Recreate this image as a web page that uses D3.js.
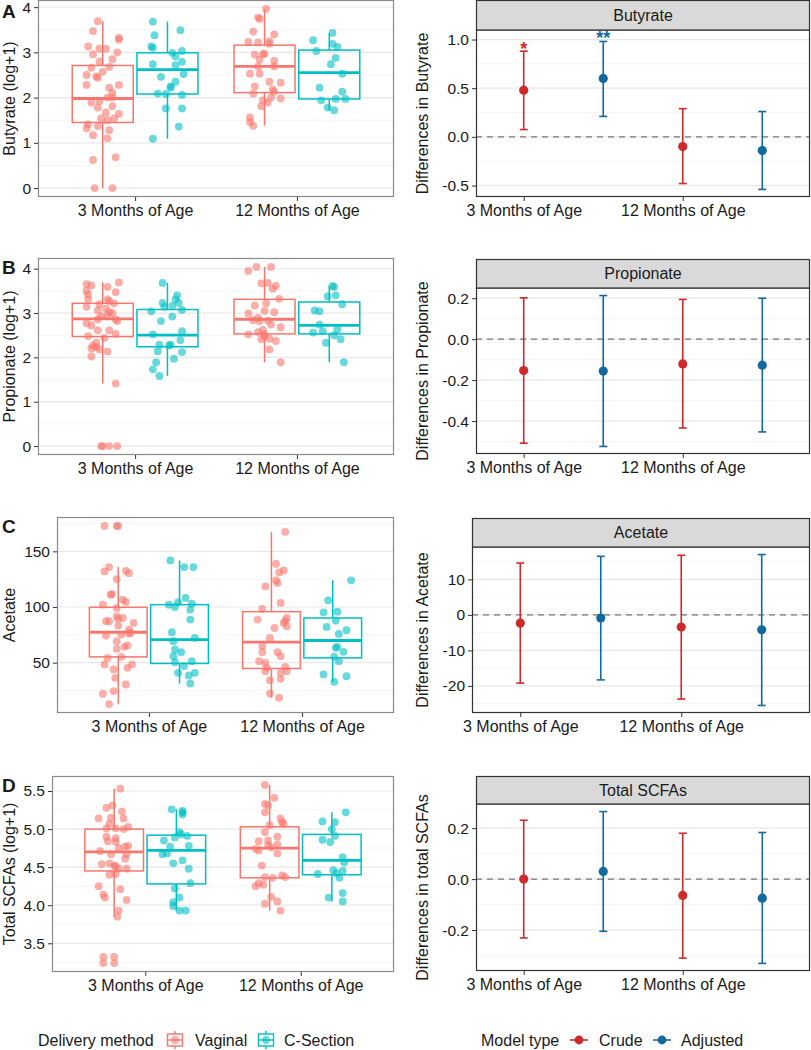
<!DOCTYPE html>
<html><head><meta charset="utf-8">
<script src="https://cdn.jsdelivr.net/npm/d3@7"></script>
<style>
body{margin:0;background:#fff}
svg{display:block}
text{font-family:"Liberation Sans",Arial,Helvetica,sans-serif;fill:#1a1a1a}
</style>
</head><body>
<svg id="c" width="811" height="1050"></svg>
<script>
// ---------------- DATA ----------------
const ages = ["3 Months of Age", "12 Months of Age"];
const deliveryMethods = ["Vaginal", "C-Section"];
const modelTypes = ["Crude", "Adjusted"];
const deliveryColors = ["#F8766D", "#00BFC4"];
const modelColors = ["#CF2A2B", "#13699E"];

// points: [value, horizontal jitter in 1/100 of a category step]
const butyrateVag3 = [[3.69,-3],[3.47,-6],[3.32,10],[3.28,10],[3.13,-9],[3.08,-2],[3.08,2],[3.00,9],[2.96,-6],[2.85,6],[2.80,-2],[2.66,-7],[2.68,4],[2.57,0],[2.50,-10],[2.47,-4],[2.44,-3],[2.28,10],[2.28,-10],[2.22,4],[2.11,6],[2.00,3],[2.00,6],[1.89,-7],[1.92,-2],[1.78,-3],[1.81,6],[1.67,2],[1.64,10],[1.54,7],[1.54,-1],[1.50,3],[1.41,-9],[1.37,-3],[1.32,-10],[1.28,4],[1.17,-6],[1.10,3],[0.68,8],[0.62,-6],[0,-5],[0,6]];
const butyrateCs3 = [[3.68,-9],[3.49,8],[3.38,-8],[3.13,-10],[3.10,-9],[3.03,9],[2.99,3],[2.91,5],[2.79,9],[2.74,-9],[2.72,5],[2.52,10],[2.46,-4],[2.35,5],[2.25,2],[2.22,2],[2.09,-6],[2.08,-1],[2.06,9],[1.76,-1],[1.76,9],[1.36,7],[1.09,-9]];
const butyrateVag12 = [[3.96,1],[3.77,-4],[3.74,-3],[3.46,-7],[3.40,6],[3.23,-10],[3.22,-4],[3.25,3],[3.19,3],[2.95,-6],[2.96,-1],[2.97,0],[2.84,-3],[2.81,6],[2.69,-4],[2.69,6],[2.53,-9],[2.53,-3],[2.35,3],[2.33,10],[2.25,-6],[2.18,5],[2.13,6],[2.09,-7],[2.00,4],[1.98,10],[1.94,-1],[1.89,2],[1.81,-2],[1.56,-9],[1.46,-9],[1.38,-7]];
const butyrateCs12 = [[3.43,2],[3.27,-10],[3.19,2],[3.12,5],[3.03,-8],[2.88,4],[2.74,1],[2.53,8],[2.22,-6],[2.13,8],[1.94,-5],[1.97,4],[1.97,10],[1.78,-1],[1.72,3]];

const propionateVag3 = [[3.65,-10],[3.62,-7],[3.69,10],[3.59,3],[3.50,-10],[3.42,-9],[3.47,8],[3.31,-9],[3.31,3],[3.27,4],[3.20,-2],[3.14,-10],[3.22,7],[3.06,-3],[3.10,2],[3.02,4],[3.00,6],[2.93,-1],[2.95,3],[2.86,-3],[2.86,8],[2.82,9],[2.77,-10],[2.72,-7],[2.61,-3],[2.61,4],[2.53,8],[2.48,-9],[2.44,1],[2.33,-4],[2.27,-6],[2.23,-4],[2.20,-7],[2.18,-2],[2.13,3],[2.02,-7],[1.41,8],[0,-1],[0,0],[0,4],[0,9]];
const propionateCs3 = [[3.68,-3],[3.40,6],[3.31,5],[3.23,-3],[3.23,7],[3.14,-2],[3.16,3],[3.04,-10],[3.07,9],[2.92,3],[2.82,-4],[2.52,-9],[2.59,9],[2.39,8],[2.29,-5],[2.27,1],[2.29,2],[2.14,-6],[2.12,9],[1.97,4],[1.89,-7],[1.73,-9],[1.58,-5]];
const propionateVag12 = [[4.04,-5],[4.04,4],[3.95,-10],[3.67,-2],[3.68,2],[3.61,7],[3.55,5],[3.32,9],[3.22,1],[3.17,-6],[2.99,-10],[3.05,0],[3.02,6],[2.89,-4],[2.84,-7],[2.83,2],[2.74,4],[2.68,10],[2.62,-1],[2.52,-10],[2.57,-4],[2.47,0],[2.42,3],[2.37,7],[2.18,3],[1.89,10],[2.82,-3],[2.52,0],[2.41,-2]];
const propionateCs12 = [[3.59,3],[3.61,2],[3.38,-1],[3.40,4],[3.20,8],[3.06,-9],[3.04,-6],[2.74,-6],[2.63,5],[2.56,-10],[2.59,-4],[2.50,3],[2.41,7],[2.33,-2],[1.89,9]];

const acetateVag3 = [[172.8,-9],[172.8,-1],[172.8,0],[135.8,-6],[131.9,-9],[132.5,5],[130.4,7],[125.1,-1],[111.0,-5],[111.6,-4],[106.6,3],[104.5,5],[102.1,-10],[99.1,-1],[91.6,-1],[89.5,0],[90.1,3],[87.2,-8],[87.2,-6],[85.7,10],[83.3,0],[79.7,7],[76.7,8],[76.1,7],[74.3,-8],[75.2,2],[69.3,-1],[65.4,6],[64.2,4],[62.4,-1],[54.3,-7],[55.2,2],[48.4,-9],[48.4,9],[45.4,6],[43.9,-3],[36.4,-2],[30.4,5],[24.5,-3],[22.1,-10],[12.8,-6]];
const acetateCs3 = [[141.8,-6],[135.8,3],[135.8,9],[108.1,4],[104.2,-1],[102.1,-7],[103.0,8],[100.0,-3],[97.6,7],[88.7,7],[77.3,-5],[72.2,10],[69.3,-4],[61.8,-3],[59.4,1],[55.8,-4],[51.3,8],[50.4,-3],[46.9,3],[40.9,-1],[40.9,10],[38.5,6],[31.3,7]];
const acetateVag12 = [[167.5,9],[138.8,3],[132.8,8],[131.0,5],[118.5,-4],[123.9,3],[121.5,4],[103.6,6],[98.2,-6],[90.1,10],[87.8,9],[85.7,8],[82.7,10],[88.7,-9],[81.2,2],[72.2,-1],[64.8,-6],[59.4,4],[59.4,-6],[55.8,6],[51.3,-8],[49.8,-4],[45.4,-3],[46.3,9],[42.4,10],[40.9,6],[42.4,-4],[34.3,-1],[35.5,6],[22.4,-1],[18.5,5]];
const acetateCs12 = [[123.9,12],[106.0,-3],[95.8,3],[95.2,-6],[87.8,2],[82.1,-4],[79.1,9],[75.8,4],[63.3,2],[64.2,3],[59.7,7],[55.2,1],[51.3,4],[39.4,-6],[37.9,9],[32.8,1]];

const scfaVag3 = [[5.53,4],[5.31,-1],[5.28,-5],[5.23,5],[5.14,-10],[5.14,6],[5.15,-2],[5.07,-3],[5.03,9],[5.01,-5],[5.01,1],[5.00,6],[4.90,-5],[4.88,1],[4.84,-4],[4.83,1],[4.77,7],[4.78,9],[4.71,-9],[4.75,3],[4.67,-2],[4.67,8],[4.61,7],[4.54,-8],[4.55,-3],[4.52,0],[4.51,1],[4.48,8],[4.48,3],[4.40,-3],[4.41,1],[4.25,-10],[4.14,-7],[4.10,-6],[4.21,4],[4.07,8],[3.93,3],[3.85,2],[3.32,-7],[3.32,0],[3.24,-7],[3.24,0]];
const scfaCs3 = [[5.26,-3],[5.24,4],[5.22,4],[5.19,4],[4.96,2],[4.93,3],[4.91,7],[4.89,-1],[4.85,-8],[4.77,-4],[4.78,8],[4.67,-9],[4.68,-6],[4.59,4],[4.55,-2],[4.48,8],[4.29,9],[4.22,-1],[4.10,2],[4.04,-2],[3.99,-2],[3.93,2],[3.93,6]];
const scfaVag12 = [[5.58,-3],[5.41,3],[5.33,-3],[5.31,-1],[5.22,-3],[5.14,7],[5.09,8],[5.05,0],[5.07,9],[4.96,-3],[4.90,5],[4.85,-1],[4.84,-7],[4.79,-1],[4.80,5],[4.76,1],[4.74,-9],[4.72,-7],[4.68,5],[4.52,-5],[4.37,-3],[4.39,8],[4.37,10],[4.36,2],[4.29,-7],[4.25,-9],[4.27,-4],[4.11,1],[4.02,-3],[4.05,5],[3.93,7]];
const scfaCs12 = [[5.22,9],[5.10,-6],[5.09,2],[5.00,0],[4.91,2],[4.86,-6],[4.83,-1],[4.63,7],[4.56,8],[4.46,1],[4.41,-9],[4.42,3],[4.45,7],[4.36,5],[4.10,-2],[4.16,7],[4.05,7]];

// box stats [lower whisker, Q1, median, Q3, upper whisker]; order Vag 3m, CS 3m, Vag 12m, CS 12m
const butyrateBox = [[0,1.45,1.98,2.71,3.69],[1.09,2.08,2.62,2.99,3.68],[1.38,2.11,2.69,3.16,3.96],[1.72,1.97,2.55,3.05,3.43]];
const propionateBox = [[1.41,2.47,2.87,3.22,3.69],[1.58,2.24,2.50,3.08,3.68],[1.89,2.53,2.86,3.31,4.04],[1.89,2.53,2.72,3.25,3.61]];
const acetateBox = [[12.8,55.2,77.3,99.7,135.8],[31.3,49.3,70.7,102.1,141.8],[18.5,44.8,68.4,95.8,167.5],[32.8,54.3,69.9,90.1,123.9]];
const scfaBox = [[3.85,4.45,4.70,5.00,5.53],[3.93,4.28,4.72,4.92,5.26],[3.93,4.36,4.75,5.03,5.58],[4.05,4.40,4.59,4.93,5.22]];

// model estimates [estimate, lower CI, upper CI] per age
const butyrateCrude = [[0.48,0.075,0.88],[-0.10,-0.48,0.29]];
const butyrateAdjusted = [[0.60,0.21,0.98],[-0.14,-0.54,0.26]];
const butyrateStars = [["Crude",0,"*",0.91],["Adjusted",0,"**",1.02]];
const propionateCrude = [[-0.153,-0.508,0.202],[-0.121,-0.434,0.194]];
const propionateAdjusted = [[-0.156,-0.524,0.213],[-0.127,-0.453,0.200]];
const acetateCrude = [[-2.3,-19.2,14.6],[-3.4,-23.7,16.8]];
const acetateAdjusted = [[-0.9,-18.3,16.5],[-4.2,-25.5,17.0]];
const scfaCrude = [[0.0,-0.231,0.231],[-0.064,-0.31,0.18]];
const scfaAdjusted = [[0.030,-0.205,0.265],[-0.075,-0.331,0.183]];

// tick labels
const butyrateTicks = ["0","1","2","3","4"];
const butyrateDiffTicks = ["-0.5","0.0","0.5","1.0"];
const propionateTicks = ["0","1","2","3","4"];
const propionateDiffTicks = ["-0.4","-0.2","0.0","0.2"];
const acetateTicks = ["50","100","150"];
const acetateDiffTicks = ["-20","-10","0","10"];
const scfaTicks = ["3.5","4.0","4.5","5.0","5.5"];
const scfaDiffTicks = ["-0.2","0.0","0.2"];

// ---------------- LAYOUT ----------------
const rows = [
  {letter:"A", letterY:18, leftTitle:"Butyrate (log+1)", rightTitle:"Differences in Butyrate", strip:"Butyrate",
   pts:[butyrateVag3,butyrateCs3,butyrateVag12,butyrateCs12], box:butyrateBox, ticks:butyrateTicks,
   crude:butyrateCrude, adj:butyrateAdjusted, diffTicks:butyrateDiffTicks, stars:butyrateStars,
   L:{x0:38,x1:394,y0:0,y1:197}, R:{x0:476,x1:810,s0:0,y0:30,y1:197}},
  {letter:"B", letterY:274, leftTitle:"Propionate (log+1)", rightTitle:"Differences in Propionate", strip:"Propionate",
   pts:[propionateVag3,propionateCs3,propionateVag12,propionateCs12], box:propionateBox, ticks:propionateTicks,
   crude:propionateCrude, adj:propionateAdjusted, diffTicks:propionateDiffTicks, stars:[],
   L:{x0:38,x1:394,y0:258,y1:455}, R:{x0:476,x1:810,s0:259,y0:288,y1:454}},
  {letter:"C", letterY:533, leftTitle:"Acetate", rightTitle:"Differences in Acetate", strip:"Acetate",
   pts:[acetateVag3,acetateCs3,acetateVag12,acetateCs12], box:acetateBox, ticks:acetateTicks,
   crude:acetateCrude, adj:acetateAdjusted, diffTicks:acetateDiffTicks, stars:[],
   L:{x0:57,x1:394,y0:517,y1:713}, R:{x0:472,x1:810,s0:518,y0:547,y1:713}},
  {letter:"D", letterY:792, leftTitle:"Total SCFAs (log+1)", rightTitle:"Differences in total SCFAs", strip:"Total SCFAs",
   pts:[scfaVag3,scfaCs3,scfaVag12,scfaCs12], box:scfaBox, ticks:scfaTicks,
   crude:scfaCrude, adj:scfaAdjusted, diffTicks:scfaDiffTicks, stars:[],
   L:{x0:52,x1:394,y0:776,y1:972}, R:{x0:476,x1:810,s0:776,y0:804,y1:971}}
];

const svg = d3.select("#c");
const TICK_FS = 15.5, TITLE_FS = 16;

function minorBreaks(major, dom){
  const step = major[1]-major[0];
  const m = major.map(t=>t-step/2).concat([major[major.length-1]+step/2]);
  return m.filter(v=>v>dom[0] && v<dom[1]);
}

function gridLines(g, y, major, x0, x1){
  const dom = y.domain();
  g.selectAll(null).data(minorBreaks(major, dom)).join("line")
    .attr("x1",x0).attr("x2",x1).attr("y1",d=>y(d)).attr("y2",d=>y(d))
    .attr("stroke","#f3f3f3").attr("stroke-width",0.8);
  g.selectAll(null).data(major).join("line")
    .attr("x1",x0).attr("x2",x1).attr("y1",d=>y(d)).attr("y2",d=>y(d))
    .attr("stroke","#e8e8e8").attr("stroke-width",1.2);
}

function styleAxis(ax, fs){
  ax.select(".domain").remove();
  ax.selectAll(".tick line").attr("stroke","#333").attr("stroke-width",1);
  ax.selectAll(".tick text").attr("font-size",fs).attr("fill","#1a1a1a")
    .attr("font-family",'"Liberation Sans",Arial,Helvetica,sans-serif');
}

function yTitle(x, yc, s){
  svg.append("text").attr("transform",`translate(${x},${yc}) rotate(-90)`)
    .attr("text-anchor","middle").attr("dy","0.35em").attr("font-size",TITLE_FS).text(s);
}

function leftPanel(r){
  const L = r.L, g = svg.append("g");
  const x = d3.scaleLinear().domain([0.4,2.6]).range([L.x0,L.x1]);
  const vals = r.pts.flat().map(p=>p[0]).concat(r.box.flat());
  const [mn,mx] = d3.extent(vals), pad=(mx-mn)*0.05;
  const y = d3.scaleLinear().domain([mn-pad,mx+pad]).range([L.y1,L.y0]);
  const major = r.ticks.map(Number);
  g.append("rect").attr("x",L.x0).attr("y",L.y0).attr("width",L.x1-L.x0).attr("height",L.y1-L.y0).attr("fill","#fff");
  gridLines(g, y, major, L.x0, L.x1);
  const half = 0.1885;
  r.box.forEach((b,i)=>{
    const c = Math.floor(i/2)+1 + (i%2===0?-0.2:0.2);
    const col = deliveryColors[i%2];
    const bg = g.append("g").attr("stroke",col).attr("fill","none");
    bg.append("line").attr("x1",x(c)).attr("x2",x(c)).attr("y1",y(b[4])).attr("y2",y(b[3])).attr("stroke-width",1.5);
    bg.append("line").attr("x1",x(c)).attr("x2",x(c)).attr("y1",y(b[1])).attr("y2",y(b[0])).attr("stroke-width",1.5);
    bg.append("rect").attr("x",x(c-half)).attr("width",x(c+half)-x(c-half))
      .attr("y",y(b[3])).attr("height",y(b[1])-y(b[3])).attr("stroke-width",1.5);
    bg.append("line").attr("x1",x(c-half)).attr("x2",x(c+half)).attr("y1",y(b[2])).attr("y2",y(b[2])).attr("stroke-width",2.8);
  });
  r.pts.forEach((arr,i)=>{
    const c = Math.floor(i/2)+1 + (i%2===0?-0.2:0.2);
    g.selectAll(null).data(arr).join("circle")
      .attr("cx",d=>x(c+d[1]/100)).attr("cy",d=>y(d[0])).attr("r",3.9)
      .attr("fill",deliveryColors[i%2]).attr("fill-opacity",0.6);
  });
  g.append("rect").attr("x",L.x0+0.5).attr("y",L.y0+0.5).attr("width",L.x1-L.x0-1).attr("height",L.y1-L.y0-1)
    .attr("fill","none").attr("stroke","#8a8a8a").attr("stroke-width",1.2);
  const ay = g.append("g").attr("transform",`translate(${L.x0},0)`)
    .call(d3.axisLeft(y).tickValues(major).tickFormat((d,i)=>r.ticks[i]).tickSize(4).tickPadding(3));
  styleAxis(ay, TICK_FS);
  const ax = g.append("g").attr("transform",`translate(0,${L.y1})`)
    .call(d3.axisBottom(x).tickValues([1,2]).tickFormat(d=>ages[d-1]).tickSize(4).tickPadding(3.5));
  styleAxis(ax, TITLE_FS);
  yTitle(9, (L.y0+L.y1)/2, r.leftTitle);
  svg.append("text").attr("x",2).attr("y",r.letterY).attr("font-size",19).attr("font-weight","bold").text(r.letter);
}

function rightPanel(r){
  const R = r.R, g = svg.append("g");
  const x = d3.scaleLinear().domain([0.4,4.6]).range([R.x0,R.x1]);
  const vals = r.crude.flat().concat(r.adj.flat()).concat(r.stars.map(s=>s[3]));
  const [mn,mx] = d3.extent(vals), pad=(mx-mn)*0.05;
  const y = d3.scaleLinear().domain([mn-pad,mx+pad]).range([R.y1,R.y0]);
  const major = r.diffTicks.map(Number);
  g.append("rect").attr("x",R.x0).attr("y",R.y0).attr("width",R.x1-R.x0).attr("height",R.y1-R.y0).attr("fill","#fff");
  gridLines(g, y, major, R.x0, R.x1);
  g.append("line").attr("x1",R.x0).attr("x2",R.x1).attr("y1",y(0)).attr("y2",y(0))
    .attr("stroke","#777").attr("stroke-width",1.3).attr("stroke-dasharray","6,5");
  const series = [r.crude, r.adj];
  series.forEach((s,m)=>{
    const col = modelColors[m];
    s.forEach((d,a)=>{
      const p = 2*a+1+m, cw = 0.05;
      g.append("line").attr("x1",x(p)).attr("x2",x(p)).attr("y1",y(d[1])).attr("y2",y(d[2])).attr("stroke",col).attr("stroke-width",1.6);
      g.append("line").attr("x1",x(p-cw)).attr("x2",x(p+cw)).attr("y1",y(d[1])).attr("y2",y(d[1])).attr("stroke",col).attr("stroke-width",1.6);
      g.append("line").attr("x1",x(p-cw)).attr("x2",x(p+cw)).attr("y1",y(d[2])).attr("y2",y(d[2])).attr("stroke",col).attr("stroke-width",1.6);
      g.append("circle").attr("cx",x(p)).attr("cy",y(d[0])).attr("r",4.6).attr("fill",col);
    });
  });
  r.stars.forEach(s=>{
    const m = modelTypes.indexOf(s[0]);
    const p = 2*s[1]+1+m;
    g.append("text").attr("x",x(p)).attr("y",y(s[3])).attr("dy","0.35em").attr("text-anchor","middle")
      .attr("font-size",18).attr("font-weight","bold").style("fill",modelColors[m]).text(s[2]);
  });
  g.append("rect").attr("x",R.x0+0.5).attr("y",R.y0).attr("width",R.x1-R.x0-1).attr("height",R.y1-R.y0-0.5)
    .attr("fill","none").attr("stroke","#333").attr("stroke-width",1.2);
  // strip
  g.append("rect").attr("x",R.x0+0.5).attr("y",R.s0+0.5).attr("width",R.x1-R.x0-1).attr("height",R.y0-R.s0-0.5)
    .attr("fill","#d9d9d9").attr("stroke","#333").attr("stroke-width",1.2);
  g.append("text").attr("x",(R.x0+R.x1)/2).attr("y",(R.s0+R.y0)/2).attr("dy","0.35em").attr("text-anchor","middle")
    .attr("font-size",TITLE_FS).text(r.strip);
  const ay = g.append("g").attr("transform",`translate(${R.x0},0)`)
    .call(d3.axisLeft(y).tickValues(major).tickFormat((d,i)=>r.diffTicks[i]).tickSize(4).tickPadding(3));
  styleAxis(ay, TICK_FS);
  const ax = g.append("g").attr("transform",`translate(0,${R.y1})`)
    .call(d3.axisBottom(x).tickValues([1,3]).tickFormat(d=>ages[(d-1)/2]).tickSize(4).tickPadding(3.5));
  styleAxis(ax, TITLE_FS);
  yTitle(422, (R.y0+R.y1)/2, r.rightTitle);
}

rows.forEach(r=>{ leftPanel(r); rightPanel(r); });

// ---------------- LEGENDS ----------------
const LY = 1040;
const lg = svg.append("g");
lg.append("text").attr("x",38).attr("y",LY).attr("dy","0.35em").attr("font-size",TITLE_FS).text("Delivery method");
const dKeyX = [166, 257], dTextX = [195, 284];
deliveryMethods.forEach((m,i)=>{
  const kx = dKeyX[i], col = deliveryColors[i];
  const k = lg.append("g").attr("stroke",col).attr("fill","none");
  k.append("line").attr("x1",kx+9).attr("x2",kx+9).attr("y1",LY-9).attr("y2",LY+9).attr("stroke-width",1.4);
  k.append("rect").attr("x",kx+1.5).attr("y",LY-6).attr("width",15).attr("height",12).attr("fill","#fff").attr("stroke-width",1.4);
  k.append("line").attr("x1",kx+1.5).attr("x2",kx+16.5).attr("y1",LY).attr("y2",LY).attr("stroke-width",1.4);
  lg.append("circle").attr("cx",kx+9).attr("cy",LY).attr("r",3.9).attr("fill",col).attr("fill-opacity",0.6);
  lg.append("text").attr("x",dTextX[i]).attr("y",LY).attr("dy","0.35em").attr("font-size",TITLE_FS).text(m);
});
lg.append("text").attr("x",481).attr("y",LY).attr("dy","0.35em").attr("font-size",TITLE_FS).text("Model type");
const mKeyX = [570, 653], mTextX = [599, 681];
modelTypes.forEach((m,i)=>{
  const kx = mKeyX[i], col = modelColors[i];
  lg.append("line").attr("x1",kx).attr("x2",kx+18).attr("y1",LY).attr("y2",LY).attr("stroke",col).attr("stroke-width",1.6);
  lg.append("circle").attr("cx",kx+9).attr("cy",LY).attr("r",4.4).attr("fill",col);
  lg.append("text").attr("x",mTextX[i]).attr("y",LY).attr("dy","0.35em").attr("font-size",TITLE_FS).text(m);
});
</script>
</body></html>
